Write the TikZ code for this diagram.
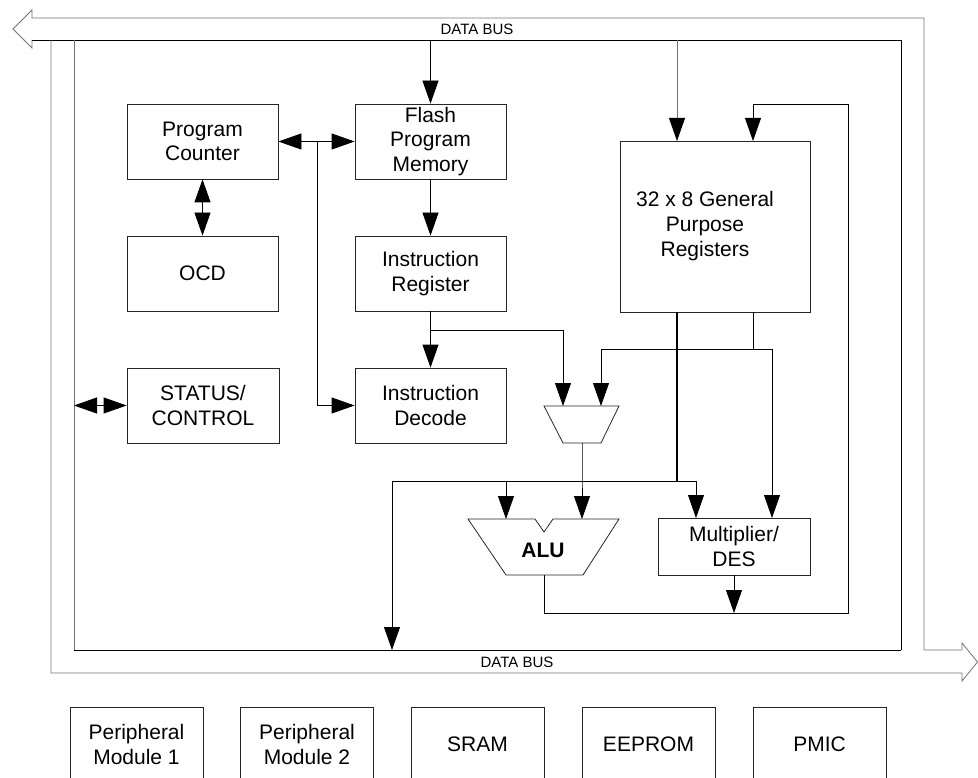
\documentclass[tikz,border=0pt]{standalone}
\usepackage{fontspec}
\setmainfont{Liberation Sans}
\usetikzlibrary{arrows.meta}
\begin{document}
\begin{tikzpicture}[x=1pt,y=-1pt,
  line width=0.8pt,
  blk/.style={draw=black!85, fill=white, inner sep=0pt, align=center,
    font=\fontsize{21}{24.7}\selectfont},
  lbl/.style={inner sep=0pt, align=center, font=\fontsize{21}{24.7}\selectfont},
  buslbl/.style={inner sep=0pt, font=\fontsize{15}{16}\selectfont},
  arr/.style={-{Triangle[length=23pt,width=16pt,black]}},
  arrb/.style={{Triangle[length=23pt,width=16pt,black]}-{Triangle[length=23pt,width=16pt,black]}},
  gline/.style={draw=black!55},
  kline/.style={draw=black}]
\useasboundingbox (0,0) rectangle (978,778);
\clip (0,0) rectangle (978,778);

% ---------- data bus ----------
\draw[gline] (924,650) -- (924,18) -- (32,18) -- (32,10) -- (13,29) -- (32,48) -- (32,40);
\draw[kline] (32,40) -- (901,40) -- (901,650);
\draw[gline] (51,40) -- (51,673) -- (962,673) -- (962,681) -- (977.5,662) -- (962,643) -- (962,650) -- (924,650);
\draw[gline] (74,40) -- (74,650);
\draw[kline] (74,650) -- (901,650);
\node[buslbl] (bustop) at (477,29) {DATA BUS};
\node[buslbl] (busbot) at (517,662) {DATA BUS};

% ---------- blocks ----------
\node[blk, minimum width=151pt, minimum height=75pt] (pc) at (202.5,141.5) {Program\\Counter};
\node[blk, minimum width=151pt, minimum height=75pt] (ocd) at (202.5,273.5) {OCD};
\node[blk, minimum width=152pt, minimum height=75pt] (stat) at (203,405.5) {STATUS/\\CONTROL};
\node[blk, minimum width=151pt, minimum height=75pt] (flash) at (430.5,141.5) {Flash\\Program\\Memory};
\node[blk, minimum width=151pt, minimum height=75pt] (ir) at (430.5,273.5) {Instruction\\Register};
\node[blk, minimum width=151pt, minimum height=75pt] (id) at (430.5,405.5) {Instruction\\Decode};
\node[blk, minimum width=190pt, minimum height=171pt] (reg) at (715,226.5) {};
\node[lbl] (regtxt) at (705,226) {32 x 8 General\\Purpose\\Registers};
\node[blk, minimum width=152pt, minimum height=57pt] (mul) at (734,546.5) {Multiplier/\\DES};

% mux
\draw[draw=black!85] (544,406) coordinate (muxtl) -- (619,406) coordinate (muxtr)
  -- (601,443) -- (563,443) -- cycle;
\coordinate (muxout) at (582,443);
% ALU
\draw[draw=black!85] (468,519) -- (535,519) -- (544,532) -- (553,519) -- (619,519)
  -- (583,575) -- (506,575) -- cycle;
\node[lbl, font=\fontsize{21}{24.7}\selectfont\bfseries] (alu) at (543,550) {ALU};
\coordinate (aluout) at (544,575);

% bottom modules
\node[blk, minimum width=133pt, minimum height=75pt] (pm1) at (136.5,744.5) {Peripheral\\Module 1};
\node[blk, minimum width=133pt, minimum height=75pt] (pm2) at (307,744.5) {Peripheral\\Module 2};
\node[blk, minimum width=133pt, minimum height=75pt] (sram) at (477.5,744.5) {SRAM};
\node[blk, minimum width=133pt, minimum height=75pt] (eep) at (648.5,744.5) {EEPROM};
\node[blk, minimum width=133pt, minimum height=75pt] (pmic) at (819.5,744.5) {PMIC};

% ---------- coordinates ----------
\coordinate (busflash) at (430.5,40);
\coordinate (busreg) at (677,40);
\coordinate (regtop1) at (677,141);
\coordinate (regtop2) at (753,141);
\coordinate (fb1) at (544,613);
\coordinate (fb2) at (848,613);
\coordinate (fb3) at (848,104);
\coordinate (fb4) at (753,104);
\coordinate (mulin) at (734,613);
\coordinate (jpc) at (317,141.5);
\coordinate (jpc2) at (317,405.5);
\coordinate (busst) at (74,405.5);
\coordinate (jir) at (430.5,330);
\coordinate (jir2) at (563,330);
\coordinate (muxin1) at (563,406);
\coordinate (muxin2) at (601,406);
\coordinate (rb1) at (677,312);
\coordinate (rb2) at (753,312);
\coordinate (h1) at (601,349);
\coordinate (h2) at (753,349);
\coordinate (h3) at (772,349);
\coordinate (mulin2) at (772,518);
\coordinate (mulin1) at (696,518);
\coordinate (k1) at (677,481);
\coordinate (k2) at (696,481);
\coordinate (k0) at (392,481);
\coordinate (busin) at (392,650);
\coordinate (ka) at (506,481);
\coordinate (aluin1) at (506,519);
\coordinate (kb) at (582,481);
\coordinate (aluin2) at (582,519);

% ---------- connectors ----------
\draw[arr] (busflash) -- (flash.north);
\draw[arr, gline] (busreg) -- (regtop1);
\draw[arr] (aluout) -- (fb1) -- (fb2) -- (fb3) -- (fb4) -- (regtop2);
\draw[arr] (mul.south) -- (mulin);
\draw[arrb] (pc.east) -- (flash.west);
\draw[arr] (jpc) -- (jpc2) -- (id.west);
\draw[arrb] (pc.south) -- (ocd.north);
\draw[arrb] (busst) -- (stat.west);
\draw[arr] (flash.south) -- (ir.north);
\draw[arr] (ir.south) -- (id.north);
\draw[arr] (jir) -- (jir2) -- (muxin1);
\draw (rb2) -- (h2);
\draw[arr] (h3) -- (h1) -- (muxin2);
\draw[arr] (h3) -- (mulin2);
\draw[line width=1.6pt] (rb1) -- (k1);
\draw[arr] (k1) -- (k2) -- (mulin1);
\draw[arr] (k1) -- (k0) -- (busin);
\draw[arr] (ka) -- (aluin1);
\draw[arr] (muxout) -- (kb) -- (aluin2);
\end{tikzpicture}
\end{document}
